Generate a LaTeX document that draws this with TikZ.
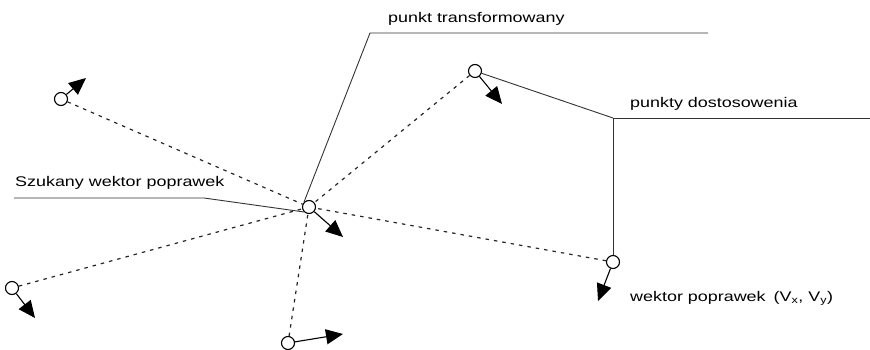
\documentclass[tikz,border=0pt]{standalone}
\usepackage{fontspec}
\newfontfamily\lblfont[FakeStretch=1.28]{Liberation Sans}
\usetikzlibrary{arrows.meta}
\begin{document}
\begin{tikzpicture}[x=1pt, y=-1pt,
    every node/.style={font=\lblfont\fontsize{14}{16}\selectfont, inner sep=0pt},
    pkt/.style={draw, circle, line width=1.1pt, minimum size=13pt, fill=white},
    wek/.style={-{Triangle[length=17pt, width=15pt]}, line width=1.1pt},
    przer/.style={dash pattern=on 3.5pt off 5pt, line width=1.2pt, black!85},
    odn/.style={line width=0.9pt, black!80}]
  \useasboundingbox (0,0) rectangle (870,350);
  % punkty
  \node[pkt] (c)  at (309,207) {};
  \node[pkt] (p1) at (61,99)   {};
  \node[pkt] (p2) at (475,71)  {};
  \node[pkt] (p3) at (613,262) {};
  \node[pkt] (p4) at (12,288)  {};
  \node[pkt] (p5) at (288,343) {};
  % linie przerywane do punktu transformowanego
  \foreach \p in {p1,p2,p3,p4,p5}
    \draw[przer] (\p) -- (c);
  % wektory poprawek
  \coordinate (v0) at (343,237);
  \coordinate (v1) at (86,78);
  \coordinate (v2) at (502,104);
  \coordinate (v3) at (598,301);
  \coordinate (v4) at (35,318);
  \coordinate (v5) at (343,334);
  \draw[wek] (c) -- (v0);
  \foreach \i in {1,...,5}
    \draw[wek] (p\i) -- (v\i);
  % opisy
  \node[anchor=base west] (tt) at (388,23)  {punkt transformowany};
  \node[anchor=base west] (td) at (630,108) {punkty dostosowenia};
  \node[anchor=base west] (ts) at (15,186)  {Szukany wektor poprawek};
  \node[anchor=base west] (tw) at (630,301) {wektor poprawek\hspace{8pt}(V\textsubscript{x}, V\textsubscript{y})};
  % linie odniesienia
  \coordinate (a1) at (370,33);  \coordinate (a2) at (708,33);
  \coordinate (b1) at (613,118); \coordinate (b2) at (870,118);
  \coordinate (s1) at (14,198);  \coordinate (s2) at (204,198);
  \draw[odn] (a2) -- (a1) -- (c.north west);
  \draw[odn] (b2) -- (b1) -- (p3);
  \draw[odn] (p2) -- (b1);
  \draw[odn] (s1) -- (s2) -- (c.south west);
\end{tikzpicture}
\end{document}
